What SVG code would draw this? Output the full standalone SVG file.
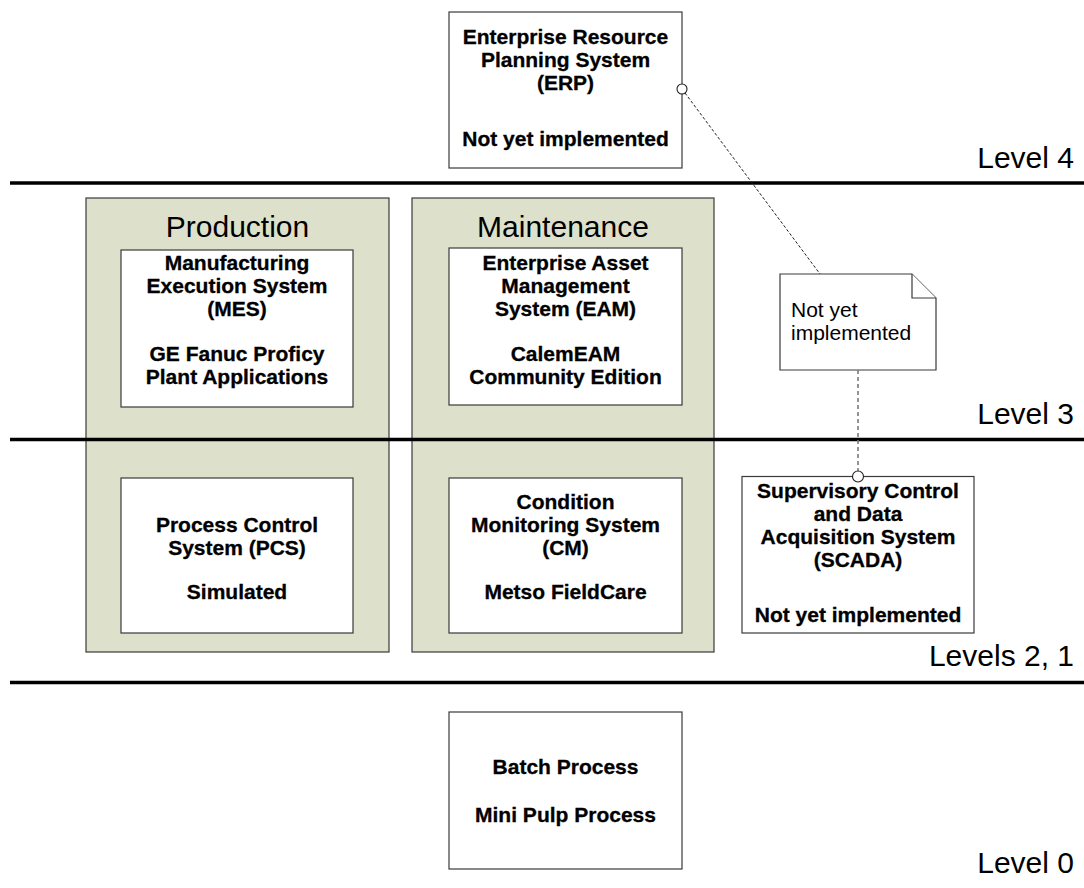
<svg xmlns="http://www.w3.org/2000/svg" width="1084" height="888" viewBox="0 0 1084 888">
  <style>
    .bg { fill: #ffffff; }
    .level-line { stroke: #000000; stroke-width: 3.5; fill: none; }
    .level { font-family: "Liberation Sans", Arial, sans-serif; font-size: 30px; fill: #000000; text-anchor: end; }
    .domain { fill: #dde0cb; stroke: #3a3a3a; stroke-width: 1.2; }
    .domain-title { font-family: "Liberation Sans", Arial, sans-serif; font-size: 30px; fill: #000000; text-anchor: middle; }
    .box { fill: #ffffff; stroke: #3a3a3a; stroke-width: 1.2; }
    .label { font-family: "Liberation Sans", Arial, sans-serif; font-size: 21px; font-weight: bold; fill: #000000; stroke: #000000; stroke-width: 0.3; text-anchor: middle; }
    .note { fill: #ffffff; stroke: #3a3a3a; stroke-width: 1.2; stroke-linejoin: miter; }
    .note-text { font-family: "Liberation Sans", Arial, sans-serif; font-size: 21px; fill: #000000; }
    .link-fine { stroke: #202020; stroke-width: 1; stroke-dasharray: 3 2; fill: none; }
    .link-grey { stroke: #7a7a7a; stroke-width: 1.6; stroke-dasharray: 4 3; fill: none; }
    .port { fill: #ffffff; stroke: #202020; stroke-width: 1.1; }
  </style>

  <rect class="bg" x="0" y="0" width="1084" height="888"/>

  <!-- functional domains -->
  <g id="production">
    <rect class="domain" x="86" y="198" width="303" height="454"/>
    <text class="domain-title" x="237.5" y="237">Production</text>
  </g>
  <g id="maintenance">
    <rect class="domain" x="412" y="198" width="302" height="454"/>
    <text class="domain-title" x="563" y="237">Maintenance</text>
  </g>

  <!-- level boundaries and captions (drawn over the domains) -->
  <g id="levels">
    <line class="level-line" x1="10" y1="183" x2="1084" y2="183"/>
    <line class="level-line" x1="10" y1="439.5" x2="1084" y2="439.5"/>
    <line class="level-line" x1="10" y1="682.5" x2="1084" y2="682.5"/>
    <text class="level" x="1074" y="168">Level 4</text>
    <text class="level" x="1074" y="424">Level 3</text>
    <text class="level" x="1074" y="666">Levels 2, 1</text>
    <text class="level" x="1074" y="873">Level 0</text>
  </g>

  <!-- systems -->
  <g id="erp">
    <rect class="box" x="449" y="12" width="233" height="156"/>
    <text class="label" x="565.5" y="44">Enterprise Resource</text>
    <text class="label" x="565.5" y="67">Planning System</text>
    <text class="label" x="565.5" y="90">(ERP)</text>
    <text class="label" x="565.5" y="146">Not yet implemented</text>
  </g>

  <g id="mes">
    <rect class="box" x="121" y="250" width="232" height="157"/>
    <text class="label" x="237" y="270">Manufacturing</text>
    <text class="label" x="237" y="293">Execution System</text>
    <text class="label" x="237" y="316">(MES)</text>
    <text class="label" x="237" y="361">GE Fanuc Proficy</text>
    <text class="label" x="237" y="384">Plant Applications</text>
  </g>

  <g id="eam">
    <rect class="box" x="449" y="248" width="233" height="157"/>
    <text class="label" x="565.5" y="270">Enterprise Asset</text>
    <text class="label" x="565.5" y="293">Management</text>
    <text class="label" x="565.5" y="316">System (EAM)</text>
    <text class="label" x="565.5" y="361">CalemEAM</text>
    <text class="label" x="565.5" y="384">Community Edition</text>
  </g>

  <g id="pcs">
    <rect class="box" x="121" y="478" width="232" height="155"/>
    <text class="label" x="237" y="532">Process Control</text>
    <text class="label" x="237" y="555">System (PCS)</text>
    <text class="label" x="237" y="599">Simulated</text>
  </g>

  <g id="cm">
    <rect class="box" x="449" y="478" width="233" height="155"/>
    <text class="label" x="565.5" y="509">Condition</text>
    <text class="label" x="565.5" y="532">Monitoring System</text>
    <text class="label" x="565.5" y="555">(CM)</text>
    <text class="label" x="565.5" y="599">Metso FieldCare</text>
  </g>

  <g id="scada">
    <rect class="box" x="742" y="476.5" width="232" height="156.5"/>
    <text class="label" x="858" y="498">Supervisory Control</text>
    <text class="label" x="858" y="521">and Data</text>
    <text class="label" x="858" y="544">Acquisition System</text>
    <text class="label" x="858" y="567">(SCADA)</text>
    <text class="label" x="858" y="622">Not yet implemented</text>
  </g>

  <g id="batch">
    <rect class="box" x="449" y="712" width="233" height="157"/>
    <text class="label" x="565.5" y="774">Batch Process</text>
    <text class="label" x="565.5" y="822">Mini Pulp Process</text>
  </g>

  <!-- comment note -->
  <g id="note">
    <path class="note" d="M780,274 H912 L936,298 V370 H780 Z"/>
    <path class="note" d="M912,274 V298 H936" fill="none"/>
    <text class="note-text" x="791" y="317">Not yet</text>
    <text class="note-text" x="791" y="340">implemented</text>
  </g>

  <!-- note anchors -->
  <g id="connectors">
    <line class="link-fine" x1="685" y1="93" x2="820" y2="274"/>
    <circle class="port" cx="682" cy="89" r="5"/>
    <line class="link-grey" x1="858" y1="370" x2="858" y2="471"/>
    <circle class="port" cx="858" cy="476.5" r="5.5"/>
  </g>
</svg>
